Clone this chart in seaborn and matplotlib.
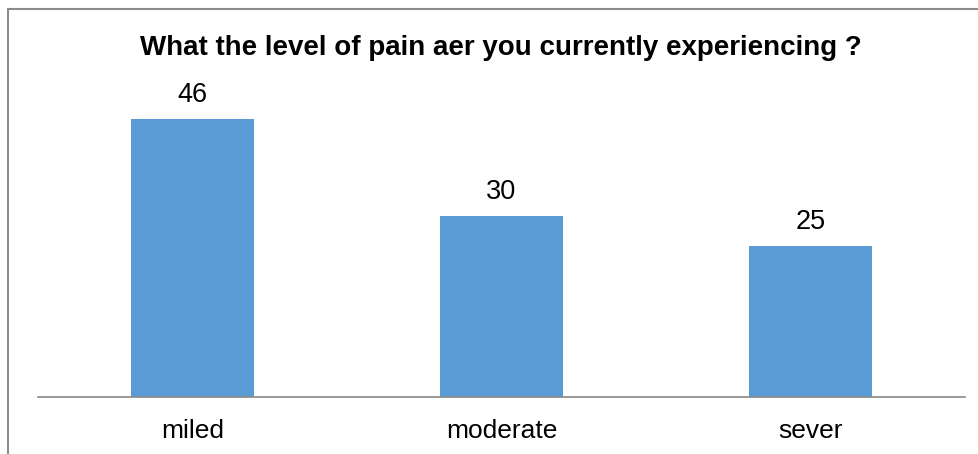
import matplotlib
matplotlib.use("Agg")
import matplotlib.pyplot as plt
import seaborn as sns
import pandas as pd
from matplotlib.patches import Rectangle

# data
levels = ["miled", "moderate", "sever"]
counts = [46, 30, 25]
title = "What the level of pain aer you currently experiencing ?"

sns.set_style("white")
plt.rcParams["font.family"] = ["Liberation Sans", "DejaVu Sans"]
plt.rcParams["text.color"] = "black"
plt.rcParams["xtick.color"] = "black"

df = pd.DataFrame({"level": levels, "count": counts})

fig = plt.figure(figsize=(9.79, 4.54), dpi=100)
ax = fig.add_axes([38 / 979, 57 / 454, 927 / 979, 302 / 454])

sns.barplot(x="level", y="count", data=df, color="#5B9BD5", width=0.4,
            saturation=1, linewidth=0, ax=ax)
ax.set_ylim(0, 50)
ax.set_xlim(-0.5, 2.5)

for i, v in enumerate(counts):
    ax.text(i, v + 1.8, str(v), ha="center", va="bottom", fontsize=19.5,
            color="black")

ax.set_xlabel("")
ax.set_ylabel("")
ax.set_yticks([])
ax.tick_params(axis="x", length=0, labelsize=19, pad=16, labelcolor="black")
for s in ["top", "left", "right"]:
    ax.spines[s].set_visible(False)
ax.spines["bottom"].set_color("#888888")
ax.spines["bottom"].set_linewidth(1.2)

fig.text(0.512, 1 - 48 / 454, title, ha="center", va="center",
         fontsize=20, fontweight="bold", color="black")

# outer chart border
fig.patches.append(Rectangle((8.5 / 979, -0.1), 1.2, 1 - 9.5 / 454 + 0.1,
                             transform=fig.transFigure, fill=False,
                             edgecolor="#8c8c8c", linewidth=1.5))

fig.savefig("out.png", dpi=100)
